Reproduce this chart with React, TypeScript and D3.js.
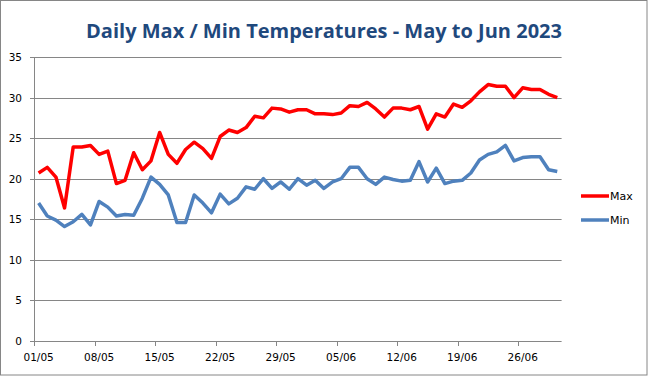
import React, { useEffect, useRef } from "react";
import * as d3 from "d3";

const startDate = new Date(2023, 4, 1);
const maxTemps = [
  20.7, 21.4, 20.2, 16.4, 23.9, 23.9, 24.1, 23.0, 23.4, 19.4,
  19.8, 23.2, 21.1, 22.2, 25.7, 23.0, 21.9, 23.6, 24.5, 23.7,
  22.5, 25.2, 26.0, 25.7, 26.3, 27.7, 27.5, 28.7, 28.6, 28.2,
  28.5, 28.5, 28.0, 28.0, 27.9, 28.1, 29.0, 28.9, 29.4, 28.6,
  27.6, 28.7, 28.7, 28.5, 28.9, 26.1, 28.0, 27.6, 29.2, 28.8,
  29.6, 30.7, 31.6, 31.4, 31.4, 30.0, 31.2, 31.0, 31.0, 30.4,
  30.0,
];
const minTemps = [
  17.0, 15.4, 14.9, 14.1, 14.7, 15.6, 14.3, 17.2, 16.5, 15.4,
  15.6, 15.5, 17.6, 20.2, 19.3, 18.0, 14.6, 14.6, 18.0, 17.0,
  15.8, 18.1, 16.9, 17.6, 19.0, 18.7, 20.0, 18.8, 19.6, 18.7,
  20.0, 19.2, 19.8, 18.8, 19.6, 20.0, 21.4, 21.4, 20.0, 19.3,
  20.2, 19.9, 19.7, 19.8, 22.1, 19.6, 21.3, 19.4, 19.7, 19.8,
  20.7, 22.3, 23.0, 23.3, 24.1, 22.2, 22.6, 22.7, 22.7, 21.1,
  20.9,
];
const yTicks = [0, 5, 10, 15, 20, 25, 30, 35];
const xTickEvery = 7;
const seriesNames = ["Max", "Min"];
const seriesColors = ["#FF0000", "#4F81BD"];
const title = "Daily Max / Min Temperatures - May to Jun 2023";

const W = 648;
const H = 376;
const tickFont = "Tahoma, 'DejaVu Sans', Verdana, sans-serif";

export default function App() {
  const ref = useRef<SVGSVGElement | null>(null);

  useEffect(() => {
    const svg = d3.select(ref.current);
    svg.selectAll("*").remove();

    const left = 34.3;
    const right = 561.6;
    const top = 57;
    const bottom = 341;
    const n = maxTemps.length;

    svg.append("rect").attr("x", 0.5).attr("y", 0.5).attr("width", W - 1.5).attr("height", H - 1.5)
      .attr("fill", "#fff").attr("stroke", "#868686").attr("stroke-width", 1);

    svg.append("text").attr("x", 324).attr("y", 38).attr("text-anchor", "middle")
      .attr("font-family", "'Open Sans', 'Noto Sans', sans-serif").attr("font-weight", "bold")
      .attr("font-size", 20).attr("fill", "#1F497D").text(title);

    const x = d3.scaleLinear().domain([0, n]).range([left, right]);
    const y = d3.scaleLinear().domain([0, 35]).range([bottom, top]);
    const dates = d3.range(n).map((i) => d3.timeDay.offset(startDate, i));
    const fmt = d3.timeFormat("%d/%m");

    // gridlines
    svg.append("g").selectAll("line").data(yTicks.filter((t) => t > 0)).join("line")
      .attr("x1", left).attr("x2", right)
      .attr("y1", (d) => Math.round(y(d)) + 0.5).attr("y2", (d) => Math.round(y(d)) + 0.5)
      .attr("stroke", "#868686").attr("stroke-width", 1);

    // y axis
    const yA = svg.append("g");
    yA.append("line").attr("x1", Math.round(left) + 0.5).attr("x2", Math.round(left) + 0.5)
      .attr("y1", top).attr("y2", bottom).attr("stroke", "#868686");
    yA.selectAll("line.tk").data(yTicks).join("line").attr("class", "tk")
      .attr("x1", Math.round(left) - 4).attr("x2", Math.round(left) + 0.5)
      .attr("y1", (d) => Math.round(y(d)) + 0.5).attr("y2", (d) => Math.round(y(d)) + 0.5)
      .attr("stroke", "#868686");
    yA.selectAll("text").data(yTicks).join("text")
      .attr("x", 22).attr("y", (d) => y(d) + 4).attr("text-anchor", "end")
      .attr("font-family", tickFont).attr("font-size", 10.5).attr("fill", "#000")
      .text((d) => d);

    // x axis
    const xA = svg.append("g");
    xA.append("line").attr("x1", left).attr("x2", right)
      .attr("y1", Math.round(bottom) + 0.5).attr("y2", Math.round(bottom) + 0.5).attr("stroke", "#868686");
    const tickIdx = d3.range(0, n, xTickEvery);
    xA.selectAll("line.tk").data(tickIdx).join("line").attr("class", "tk")
      .attr("x1", (i) => Math.round(x(i)) + 0.5).attr("x2", (i) => Math.round(x(i)) + 0.5)
      .attr("y1", Math.round(bottom)).attr("y2", Math.round(bottom) + 5)
      .attr("stroke", "#868686");
    xA.selectAll("text").data(tickIdx).join("text")
      .attr("x", (i) => x(i + 0.5)).attr("y", 361).attr("text-anchor", "middle")
      .attr("font-family", tickFont).attr("font-size", 10.5).attr("fill", "#000")
      .text((i) => fmt(dates[i]));

    const line = d3.line<number>().x((_, i) => x(i + 0.5)).y((d) => y(d));
    [maxTemps, minTemps].forEach((s, k) => {
      svg.append("path").datum(s).attr("d", line).attr("fill", "none")
        .attr("stroke", seriesColors[k]).attr("stroke-width", 3.5)
        .attr("stroke-linejoin", "round").attr("stroke-linecap", "butt");
    });

    // legend
    const lg = svg.append("g");
    seriesNames.forEach((name, k) => {
      const ly = 196 + k * 24;
      lg.append("line").attr("x1", 581).attr("x2", 609).attr("y1", ly).attr("y2", ly)
        .attr("stroke", seriesColors[k]).attr("stroke-width", 3.5);
      lg.append("text").attr("x", 610).attr("y", ly + 4).attr("font-family", tickFont)
        .attr("font-size", 11).attr("fill", "#000").text(name);
    });
  }, []);

  return (
    <svg ref={ref} width={W} height={H}
      style={{ position: "absolute", left: 0, top: 0, display: "block" }} />
  );
}
